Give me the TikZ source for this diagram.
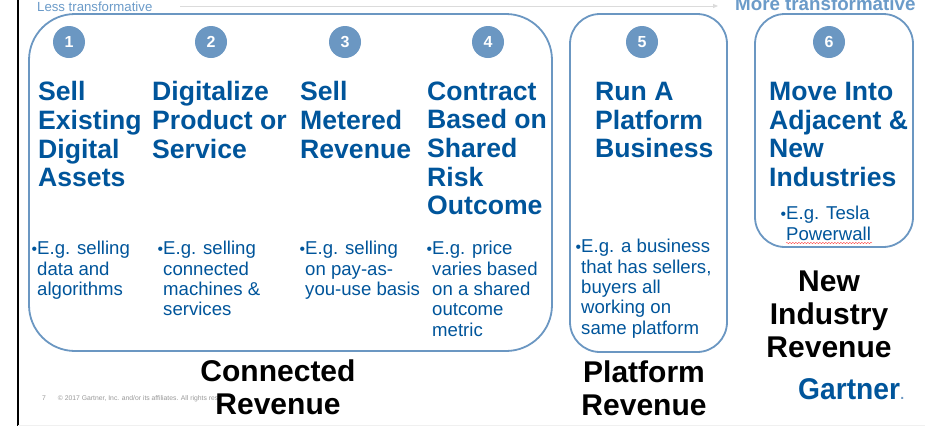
\documentclass[tikz,border=0pt]{standalone}
\usepackage{fontspec}
\setmainfont{Liberation Sans}
\usetikzlibrary{decorations.pathmorphing,arrows.meta}
\definecolor{boxblue}{HTML}{6B97C2}
\definecolor{headblue}{HTML}{00559B}
\definecolor{skyblue}{HTML}{6B9BC9}
\newcommand{\bul}{\llap{\scalebox{0.85}{\textbullet}}}
\tikzset{
 x=1pt,y=-1pt,
 frame/.style={draw=boxblue,line width=1.8pt,rounded corners=#1},
 num/.style={circle,fill=boxblue,minimum size=32pt,inner sep=0pt,text=white,font=\fontsize{16}{16}\selectfont\bfseries},
 head/.style={anchor=north west,inner sep=0pt,align=left,text=headblue,font=\fontsize{26.6}{28.7}\selectfont\bfseries},
 body/.style={anchor=north west,inner sep=0pt,align=left,text=headblue,font=\fontsize{18.6}{20.4}\selectfont},
 rev/.style={anchor=north,inner sep=0pt,align=center,text=black,font=\fontsize{30}{33}\selectfont\bfseries},
}
\begin{document}
\begin{tikzpicture}
\useasboundingbox (0,0) rectangle (925,426);
\fill[white] (0,0) rectangle (925,426);
\draw[black,line width=1.6pt] (18,0) -- (18,426);
\draw[black!6,line width=0.8pt] (18,425.5) -- (925,425.5);
% scale header
\node[anchor=base west,inner sep=0pt,text=skyblue,font=\fontsize{13.2}{14}\selectfont] (less) at (37,11) {Less transformative};
\node[anchor=base west,inner sep=0pt,text=skyblue,font=\fontsize{18.75}{19}\selectfont\bfseries] (more) at (735,10.5) {More transformative};
\coordinate (arrowstart) at (180,6);
\coordinate (arrowend) at (718,6);
\draw[black!14,line width=0.8pt,-{Triangle[length=5pt,width=4pt]}] (arrowstart) -- (arrowend);
% frames
\draw[frame=46pt] (29,14) rectangle (552,351);
\draw[frame=30pt] (570,14) rectangle (727,352);
\draw[frame=30pt] (755,14) rectangle (913,247);
% numbers
\node[num] (n1) at (69,42) {1};
\node[num] (n2) at (211,42) {2};
\node[num] (n3) at (345,42) {3};
\node[num] (n4) at (488,42) {4};
\node[num] (n5) at (642,42) {5};
\node[num] (n6) at (829,42) {6};
% headings
\node[head] (h1) at (38,81.3) {Sell\\Existing\\Digital\\Assets};
\node[head] (h2) at (152,81.3) {Digitalize\\Product or\\Service};
\node[head] (h3) at (300,81.3) {Sell\\Metered\\Revenue};
\node[head] (h4) at (427,81.3) {Contract\\Based on\\Shared\\Risk\\Outcome};
\node[head] (h5) at (595,82) {Run A\\Platform\\Business};
\node[head] (h6) at (769,82) {Move Into\\Adjacent \&\\New\\Industries};
% bodies
\node[body] (b1) at (37,241) {\bul E.g. selling\\data and\\algorithms};
\node[body] (b2) at (163,241) {\bul E.g. selling\\connected\\machines \&\\services};
\node[body] (b3) at (305,241) {\bul E.g. selling\\on pay-as-\\you-use basis};
\node[body] (b4) at (432,241) {\bul E.g. price\\varies based\\on a shared\\outcome\\metric};
\node[body] (b5) at (581,239) {\bul E.g. a business\\that has sellers,\\buyers all\\working on\\same platform};
\node[body] (b6) at (786,206) {\bul E.g. Tesla\\Powerwall};
\coordinate (wavestart) at (786,243);
\coordinate (waveend) at (872,243);
\draw[red!70,line width=0.4pt,decorate,decoration={snake,amplitude=0.7pt,segment length=3pt}] (wavestart) -- (waveend);
% footer
\node[anchor=base west,inner sep=0pt,text=black!40,font=\fontsize{6.8}{7}\selectfont] (foot) at (42,400.5) {7\hspace{12pt}© 2017 Gartner, Inc. and/or its affiliates. All rights rese};
% groups
\node[rev] (r1) at (278,359.5) {Connected\\Revenue};
\node[rev] (r2) at (644,360.5) {Platform\\Revenue};
\node[rev] (r3) at (829,270.5) {New\\Industry\\Revenue};
\node[anchor=base west,inner sep=0pt,xscale=0.94,transform shape,text=headblue,font=\fontsize{30}{30}\selectfont\bfseries] (logo) at (798,399.5) {Gartner};
\node[anchor=base west,inner sep=0pt,text=boxblue,font=\fontsize{14}{14}\selectfont\bfseries] (logodot) at (logo.base east) {.};
\end{tikzpicture}
\end{document}
